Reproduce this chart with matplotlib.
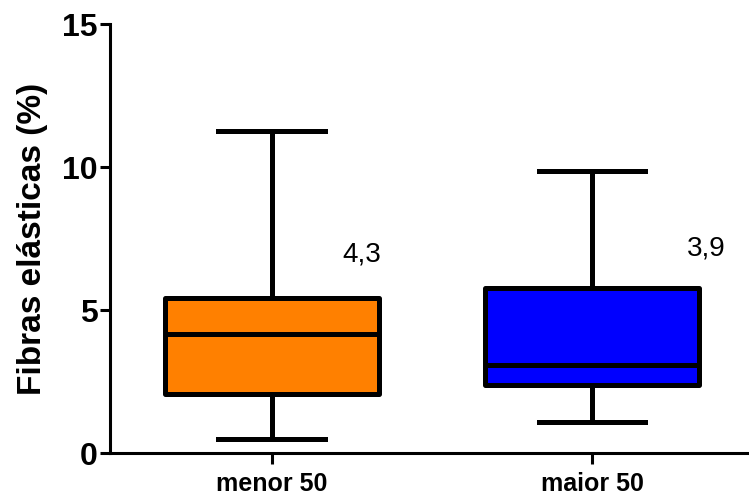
import matplotlib
import matplotlib.pyplot as plt

matplotlib.use("Agg")
plt.rcParams["font.family"] = ["Liberation Sans", "DejaVu Sans"]

# summary stats (min, q1, median, q3, max)
groups = ["menor 50", "maior 50"]
whislo = [0.51, 1.11]
q1 = [2.08, 2.39]
med = [4.17, 3.09]
q3 = [5.42, 5.77]
whishi = [11.27, 9.87]
colors = ["#ff8000", "#0000ff"]
notes = ["4,3", "3,9"]
note_y = [6.95, 7.18]

stats = []
for i, name in enumerate(groups):
    stats.append({
        "label": name, "whislo": whislo[i], "q1": q1[i], "med": med[i],
        "q3": q3[i], "whishi": whishi[i], "fliers": [],
    })

fig = plt.figure(figsize=(7.49, 4.94), dpi=100)
ax = fig.add_axes([0.147, 0.082, 0.853, 0.869])

lw = 3.6
bp = ax.bxp(
    stats, positions=[0, 1], widths=0.667, patch_artist=True, showfliers=False,
    boxprops=dict(linewidth=lw, edgecolor="black", joinstyle="round"),
    medianprops=dict(color="black", linewidth=lw),
    whiskerprops=dict(color="black", linewidth=lw),
    capprops=dict(color="black", linewidth=lw),
)
for patch, c in zip(bp["boxes"], colors):
    patch.set_facecolor(c)

note_dx = [0.22, 0.296]
for i, t in enumerate(notes):
    ax.text(i + note_dx[i], note_y[i], t, fontsize=20, ha="left", va="center")

ax.set_xlim(-0.505, 1.49)
ax.set_ylim(0, 15)
ax.set_yticks([0, 5, 10, 15])
ax.set_ylabel("Fibras elásticas (%)", fontsize=24, fontweight="bold", labelpad=10)

for s in ["top", "right"]:
    ax.spines[s].set_visible(False)
for s in ["left", "bottom"]:
    ax.spines[s].set_linewidth(2.2)
ax.tick_params(axis="y", length=7, width=2.2, labelsize=23, pad=2)
ax.tick_params(axis="x", length=8, width=2.2, labelsize=18, pad=5)
for lab in ax.get_yticklabels() + ax.get_xticklabels():
    lab.set_fontweight("bold")

fig.savefig("out.png", dpi=100)
